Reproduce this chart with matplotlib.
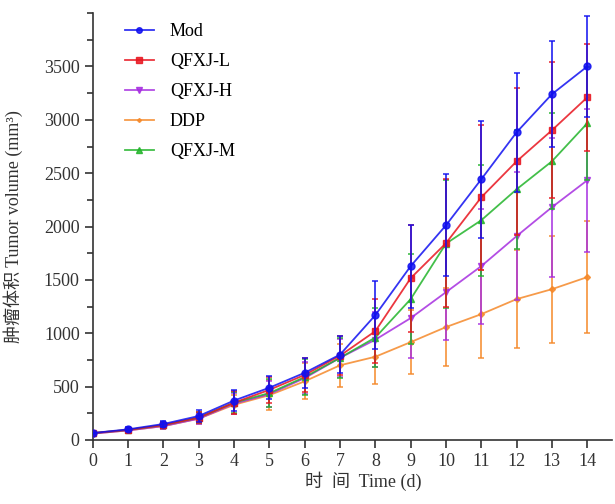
import matplotlib
matplotlib.use("Agg")
import matplotlib.pyplot as plt
from matplotlib.ticker import MultipleLocator
from matplotlib.lines import Line2D

plt.rcParams['font.family'] = ['Liberation Serif', 'Noto Sans CJK SC']

days = list(range(15))
mod = [65, 100, 150, 225, 370, 490, 630, 800, 1170, 1629, 2012, 2443, 2883, 3240, 3500]
mod_err = [5, 20, 30, 55, 100, 110, 140, 170, 320, 390, 480, 550, 560, 495, 470]
qfxj_l = [65, 95, 140, 210, 350, 470, 610, 790, 1020, 1516, 1844, 2274, 2611, 2902, 3210]
qfxj_l_err = [5, 20, 30, 50, 110, 120, 160, 180, 300, 500, 600, 680, 690, 636, 500]
qfxj_h = [60, 90, 130, 200, 340, 430, 580, 770, 940, 1142, 1385, 1629, 1910, 2181, 2433]
qfxj_h_err = [5, 20, 30, 50, 100, 120, 150, 180, 260, 375, 450, 540, 600, 650, 670]
ddp = [60, 90, 130, 200, 330, 420, 550, 700, 780, 917, 1058, 1179, 1320, 1413, 1526]
ddp_err = [5, 20, 30, 50, 90, 140, 170, 200, 260, 300, 365, 410, 460, 500, 525]
qfxj_m = [65, 95, 140, 210, 350, 440, 590, 770, 960, 1320, 1840, 2059, 2349, 2611, 2967]
qfxj_m_err = [5, 20, 30, 50, 100, 130, 170, 190, 280, 420, 600, 520, 560, 450, 530]

series = [
    ("Mod", mod, mod_err, "#1010f0", "o", 5, 6),
    ("QFXJ-L", qfxj_l, qfxj_l_err, "#e8141e", "s", 5, 5),
    ("QFXJ-H", qfxj_h, qfxj_h_err, "#a62ee0", "v", 5, 3),
    ("DDP", ddp, ddp_err, "#f5892a", "D", 3, 2),
    ("QFXJ-M", qfxj_m, qfxj_m_err, "#22b42a", "^", 5, 4),
]

fig = plt.figure(figsize=(6.15, 5.04), dpi=100)
ax = fig.add_axes([0.151, 0.127, 0.844, 0.847])

handles = []
for name, vals, errs, col, mk, ms, z in series:
    ax.errorbar(days, vals, yerr=errs, color=col, marker=mk, markersize=ms,
                linewidth=1.3, elinewidth=1.3, capsize=2.5, capthick=1.2,
                zorder=z, alpha=0.85)
    handles.append(Line2D([], [], color=col, marker=mk, markersize=ms - 1,
                          linewidth=1.3, alpha=0.85, label=name))

ax.set_xlim(0, 14.7)
ax.set_ylim(0, 4000)
ax.xaxis.set_major_locator(MultipleLocator(1))
ax.yaxis.set_minor_locator(MultipleLocator(250))
ax.set_yticks([0, 500, 1000, 1500, 2000, 2500, 3000, 3500])
for s in ['top', 'right']:
    ax.spines[s].set_visible(False)
for s in ['left', 'bottom']:
    ax.spines[s].set_linewidth(1.2)
    ax.spines[s].set_color('#333333')
ax.tick_params(axis='both', which='major', direction='out', length=6, width=1.2,
               labelsize=13, colors='#333333')
ax.tick_params(axis='y', which='minor', direction='out', length=4, width=1.2, colors='#333333')
ax.tick_params(axis='x', which='minor', bottom=False)

ax.set_xlabel("时  间  Time (d)", fontsize=13, color='#333333')
ax.xaxis.set_label_coords(0.52, -0.075)
ax.set_ylabel("肿瘤体积 Tumor volume (mm³)", fontsize=13, color='#333333')
ax.yaxis.set_label_coords(-0.135, 0.5)

ax.legend(handles=handles, loc='upper left', bbox_to_anchor=(0.03, 1.015), frameon=False,
          fontsize=13, handlelength=1.6, labelspacing=0.72, handletextpad=0.9)

fig.savefig("out.png", dpi=100)
